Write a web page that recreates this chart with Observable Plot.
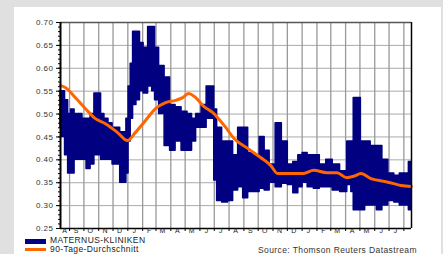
<!DOCTYPE html>
<html><head><meta charset="utf-8">
<script src="https://cdn.jsdelivr.net/npm/d3@7"></script>
<script src="https://cdn.jsdelivr.net/npm/@observablehq/plot@0.6"></script>
<style>
html,body{margin:0;padding:0;}
body{width:443px;height:254px;background:#e0e0e0;position:relative;overflow:hidden;font-family:"Liberation Sans",Arial,sans-serif;}
#panel{position:absolute;left:14px;top:7px;width:427px;height:247px;background:#fff;}
#chart{position:absolute;left:0;top:0;}
.sw{position:absolute;left:25px;width:21px;}
.lt{position:absolute;font-size:8.5px;line-height:8px;letter-spacing:0.4px;color:#222;white-space:nowrap;}
</style></head>
<body>
<div id="panel"></div>
<div id="chart"></div>
<div class="sw" style="top:239px;height:5px;background:#000080"></div>
<div class="lt" style="left:50px;top:236px">MATERNUS-KLINIKEN</div>
<div class="sw" style="top:248px;height:3px;background:#ff6600"></div>
<div class="lt" style="left:50px;top:245px">90-Tage-Durchschnitt</div>
<div class="lt" style="left:258px;top:246px;color:#333">Source: Thomson Reuters Datastream</div>
<script>
const bandDates = ["2010-08-13","2010-08-19","2010-08-26","2010-09-01","2010-09-07","2010-09-16","2010-09-24","2010-10-02","2010-10-11","2010-10-19","2010-10-27","2010-11-03","2010-11-09","2010-11-17","2010-11-26","2010-12-04","2010-12-13","2010-12-19","2010-12-27","2010-12-31","2011-01-05","2011-01-09","2011-01-15","2011-01-23","2011-01-30","2011-02-07","2011-02-18","2011-02-24","2011-03-02","2011-03-13","2011-03-25","2011-04-05","2011-04-17","2011-04-30","2011-05-12","2011-05-19","2011-05-29","2011-06-11","2011-06-19","2011-06-28","2011-07-04","2011-07-10","2011-07-25","2011-08-04","2011-08-15","2011-08-25","2011-09-05","2011-09-15","2011-09-28","2011-10-10","2011-10-19","2011-10-31","2011-11-13","2011-11-26","2011-12-08","2011-12-19","2011-12-29","2012-01-06","2012-01-19","2012-02-01","2012-02-13","2012-02-28","2012-03-11","2012-03-30","2012-04-10","2012-04-16","2012-04-20","2012-04-29","2012-05-07","2012-05-17","2012-05-30","2012-06-12","2012-06-22","2012-07-07","2012-07-17","2012-07-30","2012-08-07","2012-08-16"];
const bandHigh = [0.55,0.55,0.53,0.50,0.51,0.50,0.50,0.49,0.49,0.50, 0.545,0.545,0.50,0.49,0.48,0.47,0.47,0.46,0.46,0.49, 0.56,0.61,0.68,0.68,0.655,0.645,0.69,0.69,0.645,0.605, 0.58,0.52,0.515,0.505,0.50,0.49,0.50,0.52,0.56,0.56, 0.51,0.47,0.44,0.44,0.41,0.47,0.47,0.415,0.41,0.45, 0.42,0.39,0.48,0.44,0.39,0.395,0.41,0.415,0.41,0.41, 0.39,0.40,0.39,0.375,0.44,0.44,0.535,0.535,0.44,0.44, 0.43,0.43,0.40,0.37,0.365,0.37,0.37,0.395];
const bandLow = [0.47,0.45,0.41,0.37,0.37,0.40,0.40,0.40,0.38,0.39, 0.41,0.41,0.40,0.40,0.40,0.39,0.39,0.35,0.35,0.37, 0.44,0.49,0.52,0.53,0.55,0.545,0.56,0.55,0.53,0.50, 0.43,0.42,0.44,0.42,0.42,0.44,0.47,0.47,0.49,0.49, 0.355,0.31,0.307,0.31,0.333,0.34,0.316,0.33,0.33,0.337, 0.333,0.35,0.34,0.348,0.345,0.327,0.34,0.35,0.34,0.337, 0.34,0.34,0.333,0.33,0.345,0.33,0.29,0.29,0.29,0.30, 0.30,0.29,0.30,0.31,0.307,0.30,0.30,0.29];
const avgDates = ["2010-08-13","2010-08-23","2010-09-13","2010-10-04","2010-10-25","2010-11-15","2010-12-10","2010-12-31","2011-01-17","2011-02-07","2011-02-28","2011-03-21","2011-04-11","2011-04-26","2011-05-08","2011-05-23","2011-06-09","2011-06-28","2011-07-10","2011-07-25","2011-08-11","2011-09-09","2011-10-06","2011-10-27","2011-11-11","2011-11-23","2011-12-23","2012-01-04","2012-01-25","2012-02-22","2012-03-14","2012-04-03","2012-04-18","2012-05-03","2012-05-24","2012-06-20","2012-07-11","2012-07-26","2012-08-17"];
const avgValues = [0.562,0.558,0.536,0.512,0.490,0.479,0.460,0.442,0.460,0.486,0.512,0.525,0.530,0.536,0.545,0.536,0.517,0.503,0.490,0.471,0.447,0.425,0.405,0.388,0.370,0.370,0.370,0.370,0.377,0.372,0.372,0.361,0.364,0.370,0.359,0.353,0.348,0.344,0.342];
const monthLetters = ["A","S","O","N","D","J","F","M","A","M","J","J","A","S","O","N","D","J","F","M","A","M","J","J"];
const labelDates = ["2010-08-22","2010-09-15","2010-10-15","2010-11-15","2010-12-15","2011-01-15","2011-02-15","2011-03-15","2011-04-15","2011-05-15","2011-06-15","2011-07-15","2011-08-15","2011-09-15","2011-10-15","2011-11-15","2011-12-15","2012-01-15","2012-02-15","2012-03-15","2012-04-15","2012-05-15","2012-06-15","2012-07-15"];
const yTicks = [0.25,0.30,0.35,0.40,0.45,0.50,0.55,0.60,0.65,0.70];
const xStart = new Date("2010-08-13"), xEnd = new Date("2012-08-17");

const band = bandDates.map((d,i)=>({date:new Date(d), hi:bandHigh[i], lo:bandLow[i]}));
const avg = avgDates.map((d,i)=>({date:new Date(d), v:avgValues[i]}));
const labels = labelDates.map((d,i)=>({date:new Date(d), m:monthLetters[i]}));
const monthStarts = d3.utcMonth.range(new Date("2010-09-01"), new Date("2012-08-02"));
const minor = d3.range(25,71).map(v=>v/100);

const chart = Plot.plot({
  width:443, height:254,
  marginLeft:60, marginRight:32, marginTop:22, marginBottom:26,
  x:{type:"utc", domain:[xStart,xEnd]},
  y:{domain:[0.25,0.70]},
  style:{background:"transparent", fontFamily:"Liberation Sans, Arial, sans-serif", fontSize:"8px", color:"#333", letterSpacing:"0.5px"},
  marks:[
    Plot.ruleY(yTicks, {stroke:"#aaa", strokeWidth:1}),
    Plot.ruleX(monthStarts, {stroke:"#999", strokeWidth:1.3}),
    Plot.areaY(band, {x:"date", y1:"lo", y2:"hi", fill:"#000080", stroke:"#000080", strokeWidth:1.5, curve:"step"}),
    Plot.line(avg, {x:"date", y:"v", stroke:"#ff6600", strokeWidth:3, curve:"monotone-x"}),
    Plot.ruleY([0.70], {stroke:"#555", strokeWidth:1.5}),
    Plot.ruleY([0.25], {stroke:"#000", strokeWidth:1.5}),
    Plot.ruleX([xEnd], {stroke:"#000", strokeWidth:1.5}),
    Plot.ruleX([xStart], {stroke:"#000", strokeWidth:2}),
    Plot.axisY({ticks:minor, tickSize:2, tickFormat:()=>"", label:null, stroke:"#000"}),
    Plot.axisY({ticks:yTicks, tickSize:4, tickPadding:3, tickFormat:d=>d.toFixed(2), label:null, stroke:"#000"}),
    Plot.axisX({ticks:monthStarts, tickSize:3, tickFormat:()=>"", label:null, stroke:"#000"}),
    Plot.text(labels, {x:"date", y:()=>0.25, text:"m", lineAnchor:"top", dy:0, fontSize:7, fill:"#222"})
  ]
});
document.getElementById("chart").appendChild(chart);
</script>
</body></html>
